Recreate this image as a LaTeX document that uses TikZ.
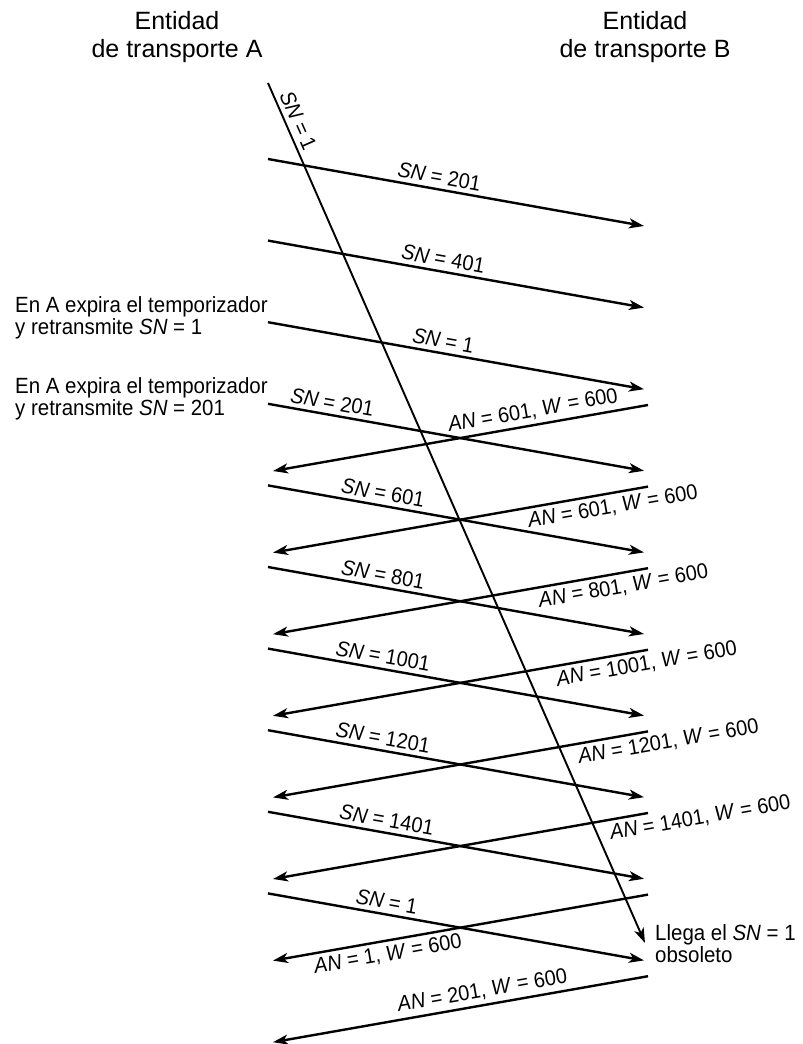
\documentclass[tikz,border=0pt]{standalone}
\usepackage{fontspec}
\setmainfont{Liberation Sans}[FakeStretch=0.93]
\newfontfamily\headfont{Liberation Sans}
\usetikzlibrary{arrows.meta}

\begin{document}
\begin{tikzpicture}[x=1pt,y=-1pt,
  msg/.style={line width=2.4pt,-{Stealth[length=15pt,width=10pt,inset=4pt]}},
  stale/.style={line width=1.9pt,-{Stealth[length=15pt,width=10pt,inset=4pt]}},
  lbl/.style={sloped,font=\fontsize{21.5}{22}\selectfont,inner sep=4pt},
  note/.style={font=\fontsize{22}{22}\selectfont,align=left,inner sep=0pt},
  head/.style={font=\headfont\fontsize{25}{28}\selectfont,align=center,inner sep=0pt}]
\useasboundingbox (0,0) rectangle (803,1044);

% entity headings
\node[head,anchor=north] (headA) at (177,11) {Entidad\\de transporte A};
\node[head,anchor=north] (headB) at (645,11) {Entidad\\de transporte B};

% end points of the segments sent from A
\foreach \i/\y in {1/159,2/240.6,3/322.2,4/403.8,5/485.4,6/567,7/648.6,8/730.2,9/811.8,10/893.4}{
  \coordinate (sA\i) at (268,\y);
  \coordinate (sB\i) at (644,\y+67);
}
% end points of the acknowledgements sent from B
\foreach \i/\y in {1/405,2/486.6,3/568.2,4/649.8,5/731.4,6/813,7/894.6,8/976.2}{
  \coordinate (aB\i) at (648,\y);
  \coordinate (aA\i) at (273,\y+66);
}
% the delayed original segment
\coordinate (oldA) at (268,83);
\coordinate (oldB) at (645,943);

\draw[stale] (oldA) -- (oldB) node[lbl,pos=0.05,above] {\textit{SN} = 1};

% data segments A -> B
\draw[msg] (sA1) -- (sB1) node[lbl,pos=0.45,above] {\textit{SN} = 201};
\draw[msg] (sA2) -- (sB2) node[lbl,pos=0.46,above] {\textit{SN} = 401};
\draw[msg] (sA3) -- (sB3) node[lbl,pos=0.46,above] {\textit{SN} = 1};
\draw[msg] (sA4) -- (sB4) node[lbl,pos=0.165,above] {\textit{SN} = 201};
\draw[msg] (sA5) -- (sB5) node[lbl,pos=0.30,above] {\textit{SN} = 601};
\draw[msg] (sA6) -- (sB6) node[lbl,pos=0.30,above] {\textit{SN} = 801};
\draw[msg] (sA7) -- (sB7) node[lbl,pos=0.30,above] {\textit{SN} = 1001};
\draw[msg] (sA8) -- (sB8) node[lbl,pos=0.30,above] {\textit{SN} = 1201};
\draw[msg] (sA9) -- (sB9) node[lbl,pos=0.31,above] {\textit{SN} = 1401};
\draw[msg] (sA10) -- (sB10) node[lbl,pos=0.31,above] {\textit{SN} = 1};

% acknowledgements B -> A
\draw[msg] (aB1) -- (aA1) node[lbl,pos=0.30,above] {\textit{AN} = 601, \textit{W} = 600};
\draw[msg] (aB2) -- (aA2) node[lbl,pos=0.10,below] {\textit{AN} = 601, \textit{W} = 600};
\draw[msg] (aB3) -- (aA3) node[lbl,pos=0.072,below] {\textit{AN} = 801, \textit{W} = 600};
\draw[msg] (aB4) -- (aA4) node[lbl,pos=0.01,below] {\textit{AN} = 1001, \textit{W} = 600};
\draw[msg] (aB5) -- (aA5) node[lbl,pos=-0.048,below] {\textit{AN} = 1201, \textit{W} = 600};
\draw[msg] (aB6) -- (aA6) node[lbl,pos=-0.133,below] {\textit{AN} = 1401, \textit{W} = 600};
\draw[msg] (aB7) -- (aA7) node[lbl,pos=0.70,below] {\textit{AN} = 1, \textit{W} = 600};
\draw[msg] (aB8) -- (aA8) node[lbl,pos=0.435,above] {\textit{AN} = 201, \textit{W} = 600};

% side notes
\node[note,anchor=north west] (tout1) at (15,296) {En A expira el temporizador\\y retransmite \textit{SN} = 1};
\node[note,anchor=north west] (tout2) at (15,377) {En A expira el temporizador\\y retransmite \textit{SN} = 201};
\node[note,anchor=north west] (late) at (655,924) {Llega el \textit{SN} = 1\\obsoleto};
\end{tikzpicture}
\end{document}
